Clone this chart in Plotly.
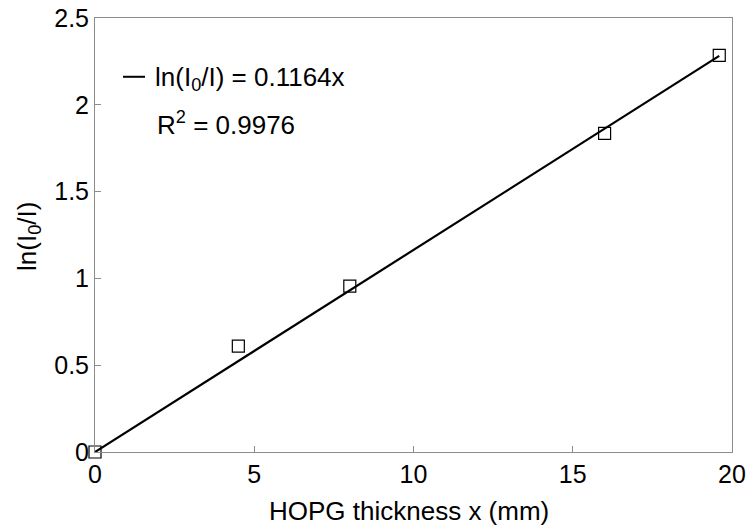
import plotly.graph_objects as go

thickness = [0, 4.5, 8, 16, 19.6]
ln_ratio = [0, 0.61, 0.955, 1.835, 2.285]
slope = 0.1164
fit_x = [0, 19.6]
fit_y = [slope * v for v in fit_x]

x_ticks = [0, 5, 10, 15, 20]
y_ticks = [0, 0.5, 1, 1.5, 2, 2.5]
y_tick_text = ["0", "0.5", "1", "1.5", "2", "2.5"]

font = "Liberation Sans, Arial, sans-serif"
FS = 26
TFS = 25

W, H = 747, 532
PL, PR, PT, PB = 95, 731.7, 18.3, 451.7  # plot box in window pixels
L, R, T, B = PL, W - PR, PT, H - PB


def px_x(x):
    return (x - PL) / (PR - PL)


def px_y(y):
    return (PB - y) / (PB - PT)


fig = go.Figure()
fig.add_trace(go.Scatter(x=fit_x, y=fit_y, mode="lines",
                         line=dict(color="black", width=2.2), showlegend=False))
fig.add_trace(go.Scatter(x=thickness, y=ln_ratio, mode="markers",
                         marker=dict(symbol="square-open", size=12, color="black",
                                     line=dict(width=1.2)), showlegend=False))

# legend-like line and text
fig.add_shape(type="line", xref="paper", yref="paper",
              x0=px_x(123), x1=px_x(145), y0=px_y(77), y1=px_y(77),
              line=dict(color="black", width=2))
fig.add_annotation(xref="paper", yref="paper", x=px_x(153), y=px_y(79),
                   text="ln(I<sub>0</sub>/I) = 0.1164x", showarrow=False,
                   xanchor="left", yanchor="middle", font=dict(family=font, size=FS, color="black"))
fig.add_annotation(xref="paper", yref="paper", x=px_x(155), y=px_y(124),
                   text="R<sup>2</sup> = 0.9976", showarrow=False,
                   xanchor="left", yanchor="middle", font=dict(family=font, size=FS, color="black"))

# axis titles
fig.add_annotation(xref="paper", yref="paper", x=px_x(409), y=px_y(511),
                   text="HOPG thickness x (mm)", showarrow=False,
                   xanchor="center", yanchor="middle", font=dict(family=font, size=FS, color="black"))
fig.add_annotation(xref="paper", yref="paper", x=px_x(28), y=px_y(236),
                   text="ln(I<sub>0</sub>/I)", showarrow=False, textangle=-90,
                   xanchor="center", yanchor="middle", font=dict(family=font, size=FS, color="black"))

axis_common = dict(showgrid=False, zeroline=False, showline=True, linecolor="#8c8c8c",
                   linewidth=1, mirror=True, ticks="inside", ticklen=6, tickcolor="#8c8c8c",
                   automargin=False, ticklabeloverflow="allow",
                   tickfont=dict(family=font, size=TFS, color="black"))

fig.update_xaxes(range=[0, 20], tickvals=x_ticks, ticktext=[str(v) for v in x_ticks],
                 **axis_common)
fig.update_yaxes(range=[0, 2.5], tickvals=y_ticks, ticktext=y_tick_text,
                 ticklabelstandoff=0,
                 **axis_common)

fig.update_layout(width=W, height=H, paper_bgcolor="white", plot_bgcolor="white",
                  margin=dict(l=L, r=R, t=T, b=B))
fig.update_traces(cliponaxis=False)

fig.write_html("out.html", config={"displayModeBar": False},
               post_script="document.body.style.margin='0';")
